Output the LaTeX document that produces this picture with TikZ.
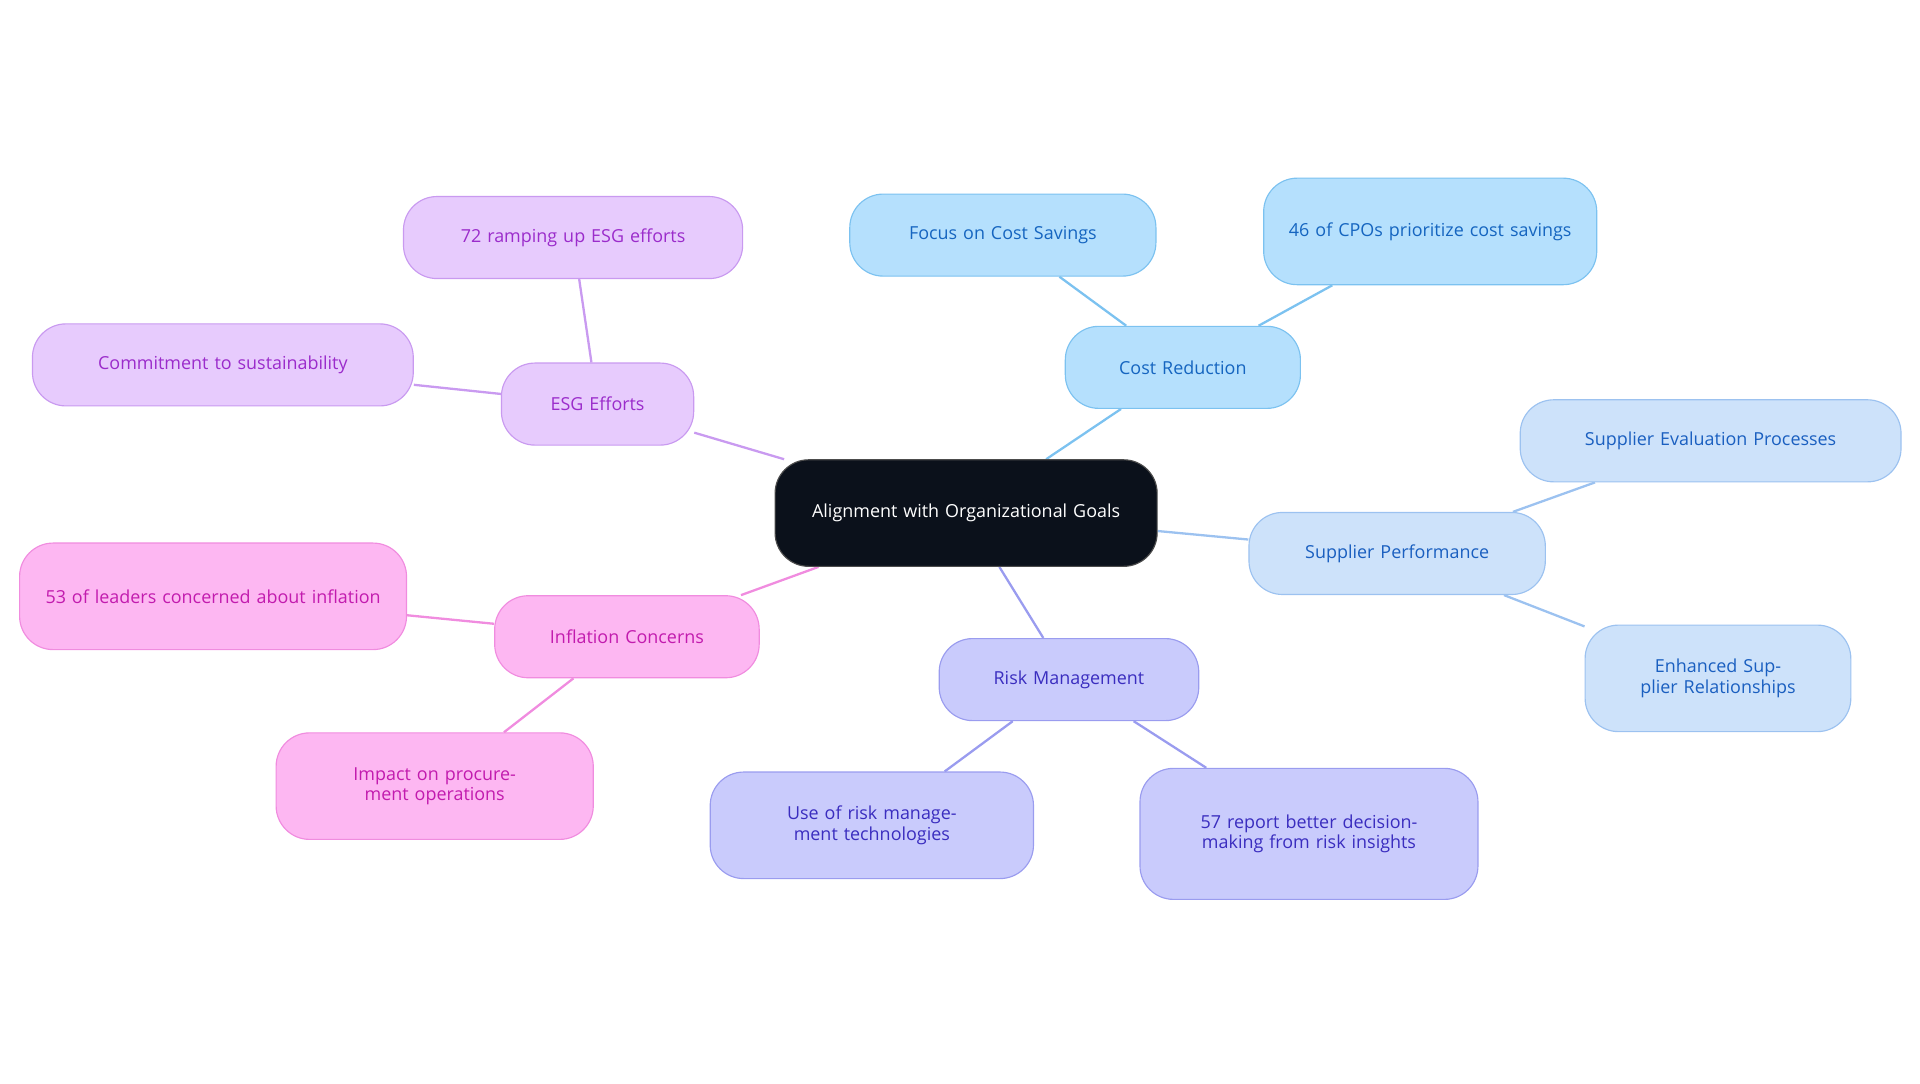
\documentclass[tikz,border=0pt]{standalone}
\usepackage{fontspec}
\setmainfont{Open Sans}
\usetikzlibrary{backgrounds}
\definecolor{cenfill}{HTML}{0B111B}
\definecolor{cfill}{HTML}{B5E0FD}\definecolor{cline}{HTML}{7CC2F0}\definecolor{ctext}{HTML}{1565C0}
\definecolor{sfill}{HTML}{CDE2FA}\definecolor{sline}{HTML}{9CC2F0}\definecolor{stext}{HTML}{1A5FC0}
\definecolor{rfill}{HTML}{C9CBFC}\definecolor{rline}{HTML}{9A9CEF}\definecolor{rtext}{HTML}{3A2DBF}
\definecolor{ifill}{HTML}{FDB7F2}\definecolor{iline}{HTML}{F08CDF}\definecolor{itext}{HTML}{C21BAE}
\definecolor{efill}{HTML}{E7CBFD}\definecolor{eline}{HTML}{C99AF0}\definecolor{etext}{HTML}{9B2CCB}
\begin{document}
\begin{tikzpicture}[x=0.03cm,y=-0.03cm,
  box/.style={rounded corners=0.82cm, align=center, inner sep=0pt, font=\fontsize{12.5}{14}\selectfont, line width=0.8pt},
  cb/.style={box, fill=cfill, draw=cline, text=ctext},
  sb/.style={box, fill=sfill, draw=sline, text=stext},
  rb/.style={box, fill=rfill, draw=rline, text=rtext},
  ib/.style={box, fill=ifill, draw=iline, text=itext},
  eb/.style={box, fill=efill, draw=eline, text=etext},
  sz/.style n args={2}{minimum width=#1*0.03cm, minimum height=#2*0.03cm, text width=#1*0.03cm-1.1cm},
  ln/.style={line width=1.6pt}]
\useasboundingbox (0,0) rectangle (1568,884.5);
\node[box, fill=cenfill, draw=gray!60!black, text=white, sz={312}{87}] (c) at (789,419) {Alignment with Organizational Goals};
\node[cb, sz={192}{67}] (cr) at (966,300) {Cost Reduction};
\node[cb, sz={250}{67}] (cr1) at (819,192) {Focus on Cost Savings};
\node[cb, sz={272}{87}] (cr2) at (1168,189) {46 of CPOs prioritize cost savings};
\node[sb, sz={242}{67}] (sp) at (1141,452) {Supplier Performance};
\node[sb, sz={311}{67}] (sp1) at (1397,360) {Supplier Evaluation Processes};
\node[sb, sz={217}{87}] (sp2) at (1403,554) {Enhanced Supplier Relationships};
\node[rb, sz={212}{67}] (rm) at (873,555) {Risk Management};
\node[rb, sz={264}{87}] (rm1) at (712,674) {Use of risk management technologies};
\node[rb, sz={276}{107}] (rm2) at (1069,681) {57 report better decision-making from risk insights};
\node[ib, sz={216}{67}] (ic) at (512,520) {Inflation Concerns};
\node[ib, sz={316}{87}] (ic1) at (174,487) {53 of leaders concerned about inflation};
\node[ib, sz={259}{87}] (ic2) at (355,642) {Impact on procurement operations};
\node[eb, sz={157}{67}] (es) at (488,330) {ESG Efforts};
\node[eb, sz={277}{67}] (es1) at (468,194) {72 ramping up ESG efforts};
\node[eb, sz={311}{67}] (es2) at (182,298) {Commitment to sustainability};
\begin{pgfonlayer}{background}
\draw[ln,cline] (c)--(cr) (cr)--(cr1) (cr)--(cr2);
\draw[ln,sline] (c)--(sp) (sp)--(sp1) (sp)--(sp2);
\draw[ln,rline] (c)--(rm) (rm)--(rm1) (rm)--(rm2);
\draw[ln,iline] (c)--(ic) (ic)--(ic1) (ic)--(ic2);
\draw[ln,eline] (c)--(es) (es)--(es1) (es)--(es2);
\end{pgfonlayer}
\end{tikzpicture}
\end{document}
